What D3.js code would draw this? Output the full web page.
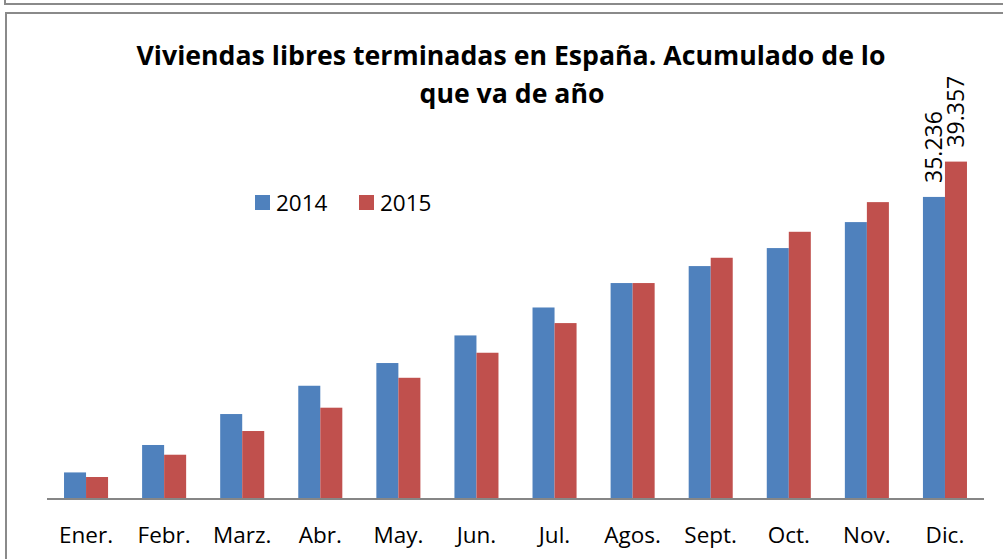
<!DOCTYPE html>
<html>
<head>
<meta charset="utf-8">
<script src="https://cdn.jsdelivr.net/npm/d3@7"></script>
<style>
  body { margin: 0; background: #fff; }
  svg { display: block; font-family: "Open Sans", Lato, sans-serif; }
</style>
</head>
<body>
<div id="chart"></div>
<script>
// data
const months = ["Ener.", "Febr.", "Marz.", "Abr.", "May.", "Jun.", "Jul.", "Agos.", "Sept.", "Oct.", "Nov.", "Dic."];
const series = ["2014", "2015"];
const values2014 = [3100, 6300, 9910, 13210, 15860, 19080, 22340, 25190, 27170, 29270, 32300, 35236];
const values2015 = [2565, 5165, 7930, 10650, 14140, 17060, 20520, 25190, 28140, 31170, 34630, 39357];
const labelled = ["Dic."];
const colors = ["#4F81BD", "#C0504D"];

const W = 1003, H = 559;
const svg = d3.select("#chart").append("svg")
  .attr("width", W).attr("height", H);

// frames
svg.append("path")
  .attr("d", "M5,0 V4 H1003")
  .attr("fill", "none").attr("stroke", "#8a8a8a").attr("stroke-width", 2);
svg.append("rect")
  .attr("x", 6).attr("y", 13).attr("width", 1100).attr("height", 700)
  .attr("fill", "none").attr("stroke", "#8a8a8a").attr("stroke-width", 2);

// scales
const plot = {left: 47, right: 984, bottom: 499};
const x = d3.scaleBand().domain(months).range([plot.left, plot.right])
  .paddingInner(0.436).paddingOuter(0.218);
const xs = d3.scaleBand().domain(series).range([0, x.bandwidth()]);
const y = d3.scaleLinear().domain([0, 39357]).range([plot.bottom, plot.bottom - 337.4]);

const rows = months.map((m, i) => ({month: m, vals: [values2014[i], values2015[i]]}));

// bars
const g = svg.append("g");
rows.forEach(r => {
  r.vals.forEach((v, j) => {
    g.append("rect")
      .attr("x", x(r.month) + xs(series[j]))
      .attr("y", y(v))
      .attr("width", xs.bandwidth())
      .attr("height", y(0) - y(v))
      .attr("fill", colors[j]);
  });
});

// data labels
rows.filter(r => labelled.includes(r.month)).forEach(r => {
  r.vals.forEach((v, j) => {
    const cx = x(r.month) + xs(series[j]) + xs.bandwidth() / 2 + 8;
    const cy = y(v) - 14;
    svg.append("text")
      .attr("transform", `translate(${cx},${cy}) rotate(-90)`)
      .attr("font-size", 23)
      .attr("fill", "#000")
      .text(d3.format(",")(v).replace(/,/g, "."));
  });
});

// x axis
svg.append("line")
  .attr("x1", plot.left).attr("x2", plot.right)
  .attr("y1", plot.bottom).attr("y2", plot.bottom)
  .attr("stroke", "#868686").attr("stroke-width", 2);

svg.selectAll(".xl").data(months).enter().append("text")
  .attr("x", d => x(d) + x.bandwidth() / 2)
  .attr("y", 543)
  .attr("text-anchor", "middle")
  .attr("font-size", 22.5)
  .attr("fill", "#000")
  .text(d => d);

// title
const title = svg.append("text")
  .attr("text-anchor", "middle")
  .attr("font-weight", "bold")
  .attr("font-size", 27)
  .attr("fill", "#000");
title.append("tspan").attr("x", 511).attr("y", 65)
  .attr("textLength", 749).attr("lengthAdjust", "spacingAndGlyphs")
  .text("Viviendas libres terminadas en España. Acumulado de lo");
title.append("tspan").attr("x", 512).attr("y", 103)
  .attr("textLength", 185).attr("lengthAdjust", "spacingAndGlyphs")
  .text("que va de año");

// legend
const leg = svg.append("g");
series.forEach((s, i) => {
  const lx = 255 + i * 104;
  leg.append("rect").attr("x", lx).attr("y", 195).attr("width", 15).attr("height", 15)
    .attr("fill", colors[i]);
  leg.append("text").attr("x", lx + 21).attr("y", 211)
    .attr("font-size", 22.5).attr("fill", "#000").text(s);
});
</script>
</body>
</html>
